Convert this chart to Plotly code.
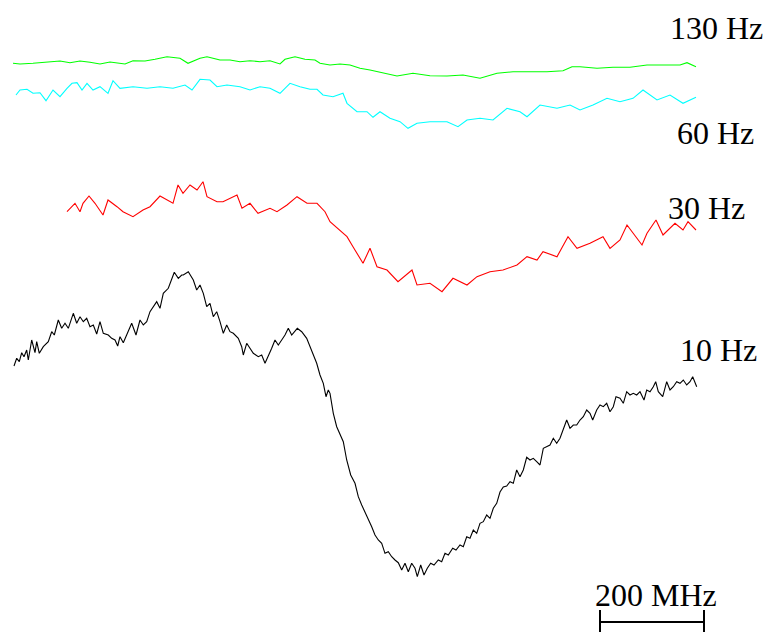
import plotly.graph_objects as go

# Channel positions (x) and signal levels (y, arb. units, up = larger)
ch_130 = [13, 20, 33, 50, 60, 70, 80, 90, 100, 110, 125, 133, 145, 155, 167, 180, 188, 200, 207, 220, 230, 240, 250, 260, 270, 280, 285, 295, 305, 315, 320, 330, 340, 350, 360, 370, 380, 397, 413, 430, 447, 463, 480, 497, 513, 530, 547, 563, 572, 580, 597, 613, 630, 647, 663, 680, 687, 696]
sig_130 = [568.7, 568, 568.7, 569.7, 571, 569.3, 571, 569.7, 568, 570, 568, 571.3, 571, 572.7, 575.3, 573.7, 568.7, 573.7, 575.3, 572, 572, 570.3, 571.3, 570.3, 571.3, 568, 572.7, 575.3, 572.7, 572, 568.7, 567, 568, 567, 563.7, 562, 559.7, 556, 558.7, 556.3, 556, 557, 553.7, 558.7, 560.3, 560.3, 560.3, 561.3, 565.3, 565.3, 563.7, 564.7, 564.7, 567, 567, 567, 569.3, 565.3]

ch_60 = [16, 20, 27, 33, 40, 46, 53, 60, 67, 72, 77, 82, 87, 93, 100, 108, 113, 120, 133, 147, 160, 173, 185, 192, 200, 210, 217, 227, 240, 250, 260, 270, 280, 290, 300, 310, 317, 323, 333, 343, 347, 357, 367, 373, 380, 390, 400, 408, 417, 430, 447, 458, 467, 480, 493, 507, 520, 527, 540, 557, 570, 580, 593, 607, 620, 633, 643, 657, 670, 683, 696]
sig_60 = [537, 542, 542.7, 538.7, 539.3, 531.3, 542, 535.3, 543.7, 548.7, 549.3, 542, 548.7, 542, 545.3, 538.7, 551.3, 543.7, 545.3, 543.7, 545.3, 543.7, 547, 542, 552.7, 552, 545.3, 547, 545.3, 542, 545.3, 543.7, 538.7, 548.7, 545.3, 542.7, 542.7, 537, 535.3, 538.7, 528.7, 520.3, 520.3, 514.7, 520.3, 513.7, 510.3, 503.7, 508.7, 510.3, 510.3, 505.3, 512, 513.7, 512, 523.7, 520.3, 515.3, 527, 523.7, 527, 522, 527, 533.7, 530.3, 533.7, 542, 532, 537, 528.7, 534.7]

ch_30 = [67, 75, 80, 83, 89, 95, 103, 108, 117, 123, 133, 143, 150, 160, 173, 178, 183, 190, 197, 203, 207, 217, 223, 237, 242, 250, 258, 270, 277, 287, 297, 307, 317, 325, 330, 340, 347, 353, 363, 370, 377, 387, 398, 412, 417, 430, 442, 453, 467, 477, 490, 503, 517, 527, 537, 543, 557, 568, 577, 590, 603, 610, 620, 627, 642, 647, 656, 663, 675, 683, 688, 696]
sig_30 = [420.3, 428.7, 420.3, 428.7, 436, 428.7, 417, 432, 425.3, 420.3, 415.3, 422, 425.3, 436, 428.7, 447, 438.7, 447, 442, 450.3, 435.3, 430.3, 430.3, 437, 423.7, 428.7, 418.7, 423.7, 420.3, 427, 435.3, 428.7, 428.7, 420.3, 410.3, 402, 395.3, 385.3, 368.7, 383.7, 365.3, 362, 350.3, 362, 347, 348.7, 340.3, 353.7, 347, 355.3, 360.3, 362, 367, 375.3, 372, 380.3, 375.3, 395.3, 383.7, 388.7, 395.3, 383.7, 392, 407, 387, 398.7, 412, 397, 408.7, 402, 410.3, 402]

ch_10 = [14, 16.7, 19.3, 21.7, 24, 26.7, 28.3, 31.7, 35, 36.7, 39.3, 43.3, 48.3, 51.7, 54.3, 58.3, 61.7, 65, 68.3, 73.3,
         76.7, 80, 83.3, 86.7, 90, 93.3, 96.7, 100, 103.3, 108.3, 111.7, 115, 117.7, 120, 123.3, 128.3, 131.7, 136, 140, 143.3,
         146.7, 150, 153.3, 156.7, 160, 163.3, 168.3, 171.7, 174.3, 178.3, 181.7, 183.3, 188.3, 193.3, 196.7, 200, 203.3, 206.7, 210, 213.3,
         216.7, 220, 223.3, 226.7, 230, 233.3, 238.3, 241.7, 243.3, 246.7, 250, 253.3, 258.3, 261.7, 265, 268.3, 271.7, 275, 278.3, 281.7,
         285, 288.3, 291.7, 297.3, 301.7, 306.7, 310, 313.3, 316.7, 320, 323.3, 326, 328.3, 330, 333.3, 336.7, 340, 343.3, 346.7, 350.7,
         355, 358.3, 361.7, 365, 368.3, 371.7, 375, 378.3, 381.7, 385, 388.3, 391.7, 395, 398.3, 401.7, 405, 408.3, 411.7, 415, 417.3,
         420.7, 424, 427.3, 430.7, 434, 438.3, 441.7, 445, 448.3, 452.7, 456, 460, 463.3, 466.7, 470, 473.3, 476.7, 480, 483.3, 486.7,
         490, 493.3, 496.7, 500, 503.3, 506.7, 510, 513.3, 516.7, 520, 523.3, 526.7, 530, 533.3, 536.7, 540, 543.3, 546.7, 550, 553.3,
         556.7, 560, 563.3, 566.7, 570, 573.3, 576.7, 580, 583.3, 586.7, 590, 592.7, 596.7, 600, 603.3, 606.7, 610, 613.3, 616, 620,
         623.3, 626.7, 630, 633.3, 636.7, 640, 644, 646.7, 650, 653.3, 655.7, 658.3, 662.7, 666.7, 670, 673.3, 676.7, 680, 683.3, 686.7,
         690, 692.7, 696.7]
sig_10 = [266, 273.7, 270.3, 279.3, 275.3, 282, 272, 292, 279.3, 290.3, 278.7, 285.3, 290.3, 300.3, 297, 312, 303.7, 308.7, 303.7, 318.7,
          308.7, 315.3, 310.3, 313.7, 305.3, 307, 298, 310.3, 298.7, 297, 293.7, 292, 286, 295.3, 289.3, 302, 308.7, 297, 312, 307,
          310.3, 320.3, 325.3, 330.3, 323.7, 338.7, 343.7, 352, 359.7, 353.7, 357, 357, 360.3, 352, 342, 347, 338.7, 325.3, 328.7, 315.3,
          320.3, 310.3, 298.7, 307, 300.3, 298.7, 293.7, 285.3, 277, 288.7, 283.7, 278.7, 275.3, 277, 268.7, 275.3, 283.7, 292, 287, 292,
          297, 303.7, 297, 303.7, 300.3, 293.7, 285.3, 278.7, 268.7, 257, 248.7, 235.3, 242, 238.7, 218.7, 205.3, 197, 190.3, 172, 157,
          148.7, 135.3, 127, 120.3, 112, 105.3, 97, 92, 88.7, 78.7, 80.3, 75.3, 72, 69.3, 62, 68.7, 60.3, 68.7, 63.7, 55.3,
          67, 57, 63.7, 68.7, 67, 72, 70.3, 78.7, 77, 83.7, 82, 87, 85.3, 95.3, 93.7, 102, 98.7, 108.7, 110.3, 117,
          113.7, 123.7, 128.7, 140, 145, 146, 150.3, 148.7, 162, 155.3, 162, 174.7, 172, 173.7, 170.3, 167, 183.7, 185.3, 187, 193.7,
          188.7, 193.7, 203.7, 212, 203.7, 207, 207, 212, 215.3, 222, 218.7, 212, 222, 227, 225.3, 228.7, 220.3, 225.3, 235.3, 233.7,
          228.7, 240.3, 237, 238.7, 237, 240.3, 232, 242, 240.3, 245.3, 250.3, 240.3, 235.3, 250.3, 242, 245.3, 250.3, 248.7, 252, 247,
          250.3, 255.3, 245.3]

labels = ["130 Hz", "60 Hz", "30 Hz", "10 Hz"]
label_ch = [668, 675, 666, 678]
label_sig = [604, 499, 424, 282]
scale_text = "200 MHz"
scale_ch = [600, 704]

series = [
    (ch_130, sig_130, "#00ff00"),
    (ch_60, sig_60, "#00ffff"),
    (ch_30, sig_30, "#ff0000"),
    (ch_10, sig_10, "#000000"),
]

fig = go.Figure()
for xs, ys, col in series:
    fig.add_trace(go.Scatter(x=xs, y=ys, mode="lines",
                             line=dict(color=col, width=1.1),
                             hoverinfo="skip", showlegend=False))

font = dict(family="Liberation Serif, Times New Roman, serif", size=32, color="black")
for t, x, y in zip(labels, label_ch, label_sig):
    fig.add_annotation(x=x, y=y, text=t, showarrow=False, xanchor="left",
                       yanchor="middle", font=font)

# scale bar
fig.add_shape(type="line", x0=scale_ch[0], x1=scale_ch[1], y0=10, y1=10,
              line=dict(color="black", width=2))
for xc in scale_ch:
    fig.add_shape(type="line", x0=xc, x1=xc, y0=0, y1=22,
                  line=dict(color="black", width=2))
fig.add_annotation(x=(scale_ch[0] + scale_ch[1]) / 2 + 4, y=37, text=scale_text,
                   showarrow=False, xanchor="center", yanchor="middle", font=font)

fig.update_layout(
    width=765, height=632,
    margin=dict(l=0, r=0, t=0, b=0),
    paper_bgcolor="white", plot_bgcolor="white",
    xaxis=dict(range=[0, 765], visible=False, fixedrange=True),
    yaxis=dict(range=[0, 632], visible=False, fixedrange=True),
)
fig.write_html("out.html", config={"displayModeBar": False},
               post_script="document.body.style.margin='0';document.body.style.overflow='hidden';")
